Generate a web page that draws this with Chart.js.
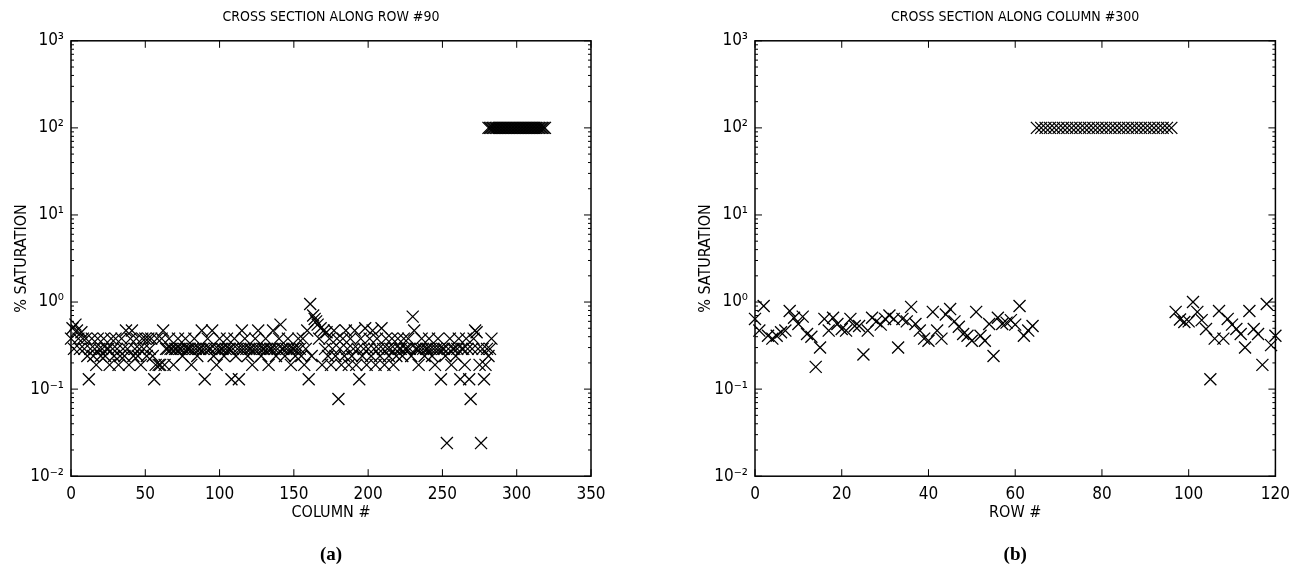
<!DOCTYPE html>
<html lang="en">
<head>
  <meta charset="UTF-8">
  <title>Cross sections - % saturation</title>
  <script src="https://cdn.jsdelivr.net/npm/chart.js@4.4.0/dist/chart.umd.min.js"></script>
  <style>
    html, body { margin: 0; padding: 0; background: #fff; overflow: hidden; }
    #wrap { position: relative; width: 1298px; height: 573px; }
    canvas { position: absolute; top: 0; }
    #rowChart { left: 0; }
    #colChart { left: 684px; }
  </style>
</head>
<body>
  <div id="wrap">
    <canvas id="rowChart" width="620" height="573"></canvas>
    <canvas id="colChart" width="614" height="573"></canvas>
  </div>
  <script>
    // (a) cross section along row #90 - one reading per column, from column 0
    const rowLowStart = 0;
    const rowLowSat = [
      0.38, 0.5, 0.29, 0.55, 0.47, 0.38, 0.29, 0.45, 0.38, 0.29, 0.38, 0.24, 0.13, 0.29, 0.38, 0.24, 0.29, 0.19, 0.38, 0.29,
      0.24, 0.29, 0.38, 0.24, 0.29, 0.29, 0.19, 0.38, 0.29, 0.24, 0.38, 0.29, 0.19, 0.24, 0.38, 0.29, 0.24, 0.47, 0.29, 0.19,
      0.38, 0.47, 0.24, 0.29, 0.38, 0.24, 0.29, 0.19, 0.38, 0.29, 0.38, 0.24, 0.38, 0.29, 0.38, 0.24, 0.13, 0.19, 0.38, 0.19,
      0.19, 0.38, 0.47, 0.19, 0.29, 0.29, 0.38, 0.29, 0.29, 0.19, 0.29, 0.29, 0.38, 0.29, 0.29, 0.24, 0.29, 0.38, 0.29, 0.29,
      0.29, 0.19, 0.29, 0.38, 0.29, 0.24, 0.29, 0.29, 0.47, 0.29, 0.13, 0.29, 0.38, 0.29, 0.29, 0.47, 0.24, 0.29, 0.19, 0.29,
      0.38, 0.29, 0.29, 0.24, 0.29, 0.38, 0.29, 0.29, 0.13, 0.29, 0.38, 0.24, 0.29, 0.13, 0.29, 0.47, 0.29, 0.38, 0.29, 0.24,
      0.29, 0.29, 0.19, 0.29, 0.38, 0.29, 0.47, 0.29, 0.24, 0.29, 0.29, 0.38, 0.29, 0.19, 0.29, 0.29, 0.47, 0.29, 0.24, 0.29,
      0.38, 0.55, 0.29, 0.29, 0.24, 0.29, 0.38, 0.29, 0.19, 0.29, 0.29, 0.24, 0.29, 0.38, 0.29, 0.24, 0.38, 0.19, 0.29, 0.47,
      0.13, 0.95, 0.24, 0.7, 0.64, 0.6, 0.55, 0.38, 0.5, 0.19, 0.47, 0.29, 0.45, 0.24, 0.38, 0.19, 0.29, 0.47, 0.24, 0.38,
      0.077, 0.29, 0.19, 0.38, 0.24, 0.47, 0.29, 0.19, 0.38, 0.24, 0.29, 0.47, 0.19, 0.29, 0.13, 0.38, 0.24, 0.29, 0.5, 0.19,
      0.29, 0.38, 0.24, 0.47, 0.29, 0.19, 0.38, 0.29, 0.24, 0.5, 0.29, 0.19, 0.38, 0.29, 0.24, 0.29, 0.38, 0.19, 0.29, 0.24,
      0.38, 0.29, 0.29, 0.24, 0.38, 0.29, 0.29, 0.38, 0.29, 0.24, 0.68, 0.47, 0.29, 0.29, 0.19, 0.29, 0.38, 0.29, 0.24, 0.29,
      0.29, 0.38, 0.29, 0.24, 0.29, 0.19, 0.29, 0.38, 0.29, 0.13, 0.29, 0.29, 0.24, 0.024, 0.29, 0.38, 0.19, 0.29, 0.29, 0.24,
      0.29, 0.38, 0.13, 0.29, 0.29, 0.19, 0.38, 0.29, 0.13, 0.077, 0.29, 0.38, 0.47, 0.45, 0.29, 0.19, 0.024, 0.29, 0.13, 0.19,
      0.29, 0.24, 0.29, 0.38
    ];
    const rowHighStart = 281;
    const rowHighSat = [
      100, 100, 100, 100, 100, 100, 100, 100, 100, 100, 100, 100, 100, 100, 100, 100, 100, 100, 100, 100,
      100, 100, 100, 100, 100, 100, 100, 100, 100, 100, 100, 100, 100, 100, 100, 100, 100, 100, 100
    ];

    // (b) cross section along column #300 - one reading per row
    const colLowLeftStart = 0;
    const colLowLeftSat = [
      0.64, 0.47, 0.9, 0.41, 0.38, 0.41, 0.45, 0.47, 0.79, 0.66,
      0.56, 0.68, 0.43, 0.4, 0.18, 0.3, 0.64, 0.47, 0.66, 0.56,
      0.49, 0.47, 0.64, 0.53, 0.53, 0.25, 0.47, 0.66, 0.6, 0.55,
      0.64, 0.7, 0.64, 0.3, 0.64, 0.6, 0.88, 0.56, 0.47, 0.38,
      0.36, 0.77, 0.47, 0.38, 0.72, 0.83, 0.6, 0.52, 0.43, 0.41,
      0.36, 0.77, 0.41, 0.36, 0.56, 0.24, 0.66, 0.56, 0.58, 0.62,
      0.55, 0.9, 0.41, 0.47, 0.53
    ];
    const colHighStart = 65;
    const colHighSat = [
      100, 100, 100, 100, 100, 100, 100, 100, 100, 100, 100, 100, 100, 100, 100, 100,
      100, 100, 100, 100, 100, 100, 100, 100, 100, 100, 100, 100, 100, 100, 100, 100
    ];
    const colLowRightStart = 97;
    const colLowRightSat = [
      0.77, 0.63, 0.59, 0.6, 1.0, 0.77, 0.62, 0.49, 0.13, 0.38,
      0.79, 0.38, 0.64, 0.55, 0.49, 0.43, 0.3, 0.79, 0.49, 0.43,
      0.19, 0.95, 0.32, 0.41
    ];

    const yTicks = [0.01, 0.1, 1, 10, 100, 1000];
    const yTickLabels = ['10⁻²', '10⁻¹', '10⁰', '10¹', '10²', '10³'];

    Chart.defaults.font.family = "'Liberation Sans Narrow', 'DejaVu Sans Condensed', 'Liberation Sans', sans-serif";
    Chart.defaults.color = '#000';
    Chart.defaults.animation = false;

    function toPoints(start, values) {
      return values.map((v, i) => ({ x: start + i, y: v }));
    }

    // matlab style box with inward ticks (minor ticks on the log axis)
    const boxTicks = {
      id: 'boxTicks',
      afterDatasetsDraw(chart) {
        const { ctx, chartArea: a, scales: { x, y } } = chart;
        ctx.save();
        ctx.strokeStyle = '#000';
        ctx.lineWidth = 1.5;
        ctx.strokeRect(a.left, a.top, a.width, a.height);
        ctx.lineWidth = 1;
        ctx.beginPath();
        x.ticks.forEach(t => {
          const px = x.getPixelForValue(t.value);
          ctx.moveTo(px, a.bottom); ctx.lineTo(px, a.bottom - 7);
          ctx.moveTo(px, a.top); ctx.lineTo(px, a.top + 7);
        });
        y.ticks.forEach((t, i) => {
          const py = y.getPixelForValue(t.value);
          ctx.moveTo(a.left, py); ctx.lineTo(a.left + 7, py);
          ctx.moveTo(a.right, py); ctx.lineTo(a.right - 7, py);
          if (i < y.ticks.length - 1) {
            for (let k = 2; k < 10; k++) {
              const pm = y.getPixelForValue(t.value * k);
              ctx.moveTo(a.left, pm); ctx.lineTo(a.left + 3, pm);
              ctx.moveTo(a.right, pm); ctx.lineTo(a.right - 3, pm);
            }
          }
        });
        ctx.stroke();
        ctx.restore();
      }
    };

    function makeChart(id, title, xTitle, letter, xMax, xStep, padRight, datasets) {
      return new Chart(document.getElementById(id), {
        type: 'scatter',
        data: {
          datasets: datasets.map(d => ({
            data: d,
            pointStyle: 'crossRot',
            pointRadius: 8.5,
            pointBorderWidth: 1.3,
            borderColor: '#000',
            backgroundColor: '#000',
            clip: false
          }))
        },
        options: {
          responsive: false,
          events: [],
          layout: { padding: { left: 0, right: padRight, top: 0, bottom: 0 } },
          plugins: {
            legend: { display: false },
            tooltip: { enabled: false },
            title: {
              display: true, text: title, fullSize: false,
              font: { size: 14, weight: 'normal' },
              padding: { top: 9, bottom: 15 }
            },
            subtitle: {
              display: true, text: letter, position: 'bottom', fullSize: false,
              font: { family: "'Liberation Serif', 'Times New Roman', serif", size: 19, weight: 'bold' },
              padding: { top: 0, bottom: 7 }
            }
          },
          scales: {
            x: {
              type: 'linear', min: 0, max: xMax,
              grid: { display: false, drawTicks: false },
              border: { display: false },
              ticks: { stepSize: xStep, padding: 8, font: { size: 17 } },
              title: { display: true, text: xTitle, font: { size: 16 }, padding: { top: 0, bottom: 21 } },
              afterFit(scale) { scale.height = 67; }
            },
            y: {
              type: 'logarithmic', min: 0.01, max: 1000,
              grid: { display: false, drawTicks: false },
              border: { display: false },
              afterBuildTicks(scale) { scale.ticks = yTicks.map(v => ({ value: v })); },
              ticks: { padding: 7, font: { size: 17 }, callback: (v, i) => yTickLabels[i] },
              title: { display: true, text: '% SATURATION', font: { size: 16 }, padding: { top: 12, bottom: 0 } },
              afterFit(scale) { scale.width = 71; }
            }
          }
        },
        plugins: [boxTicks]
      });
    }

    makeChart('rowChart', 'CROSS SECTION ALONG ROW #90', 'COLUMN #', '(a)', 350, 50, 29, [
      toPoints(rowLowStart, rowLowSat),
      toPoints(rowHighStart, rowHighSat)
    ]);

    makeChart('colChart', 'CROSS SECTION ALONG COLUMN #300', 'ROW #', '(b)', 120, 20, 21, [
      toPoints(colLowLeftStart, colLowLeftSat),
      toPoints(colHighStart, colHighSat),
      toPoints(colLowRightStart, colLowRightSat)
    ]);
  </script>
</body>
</html>
